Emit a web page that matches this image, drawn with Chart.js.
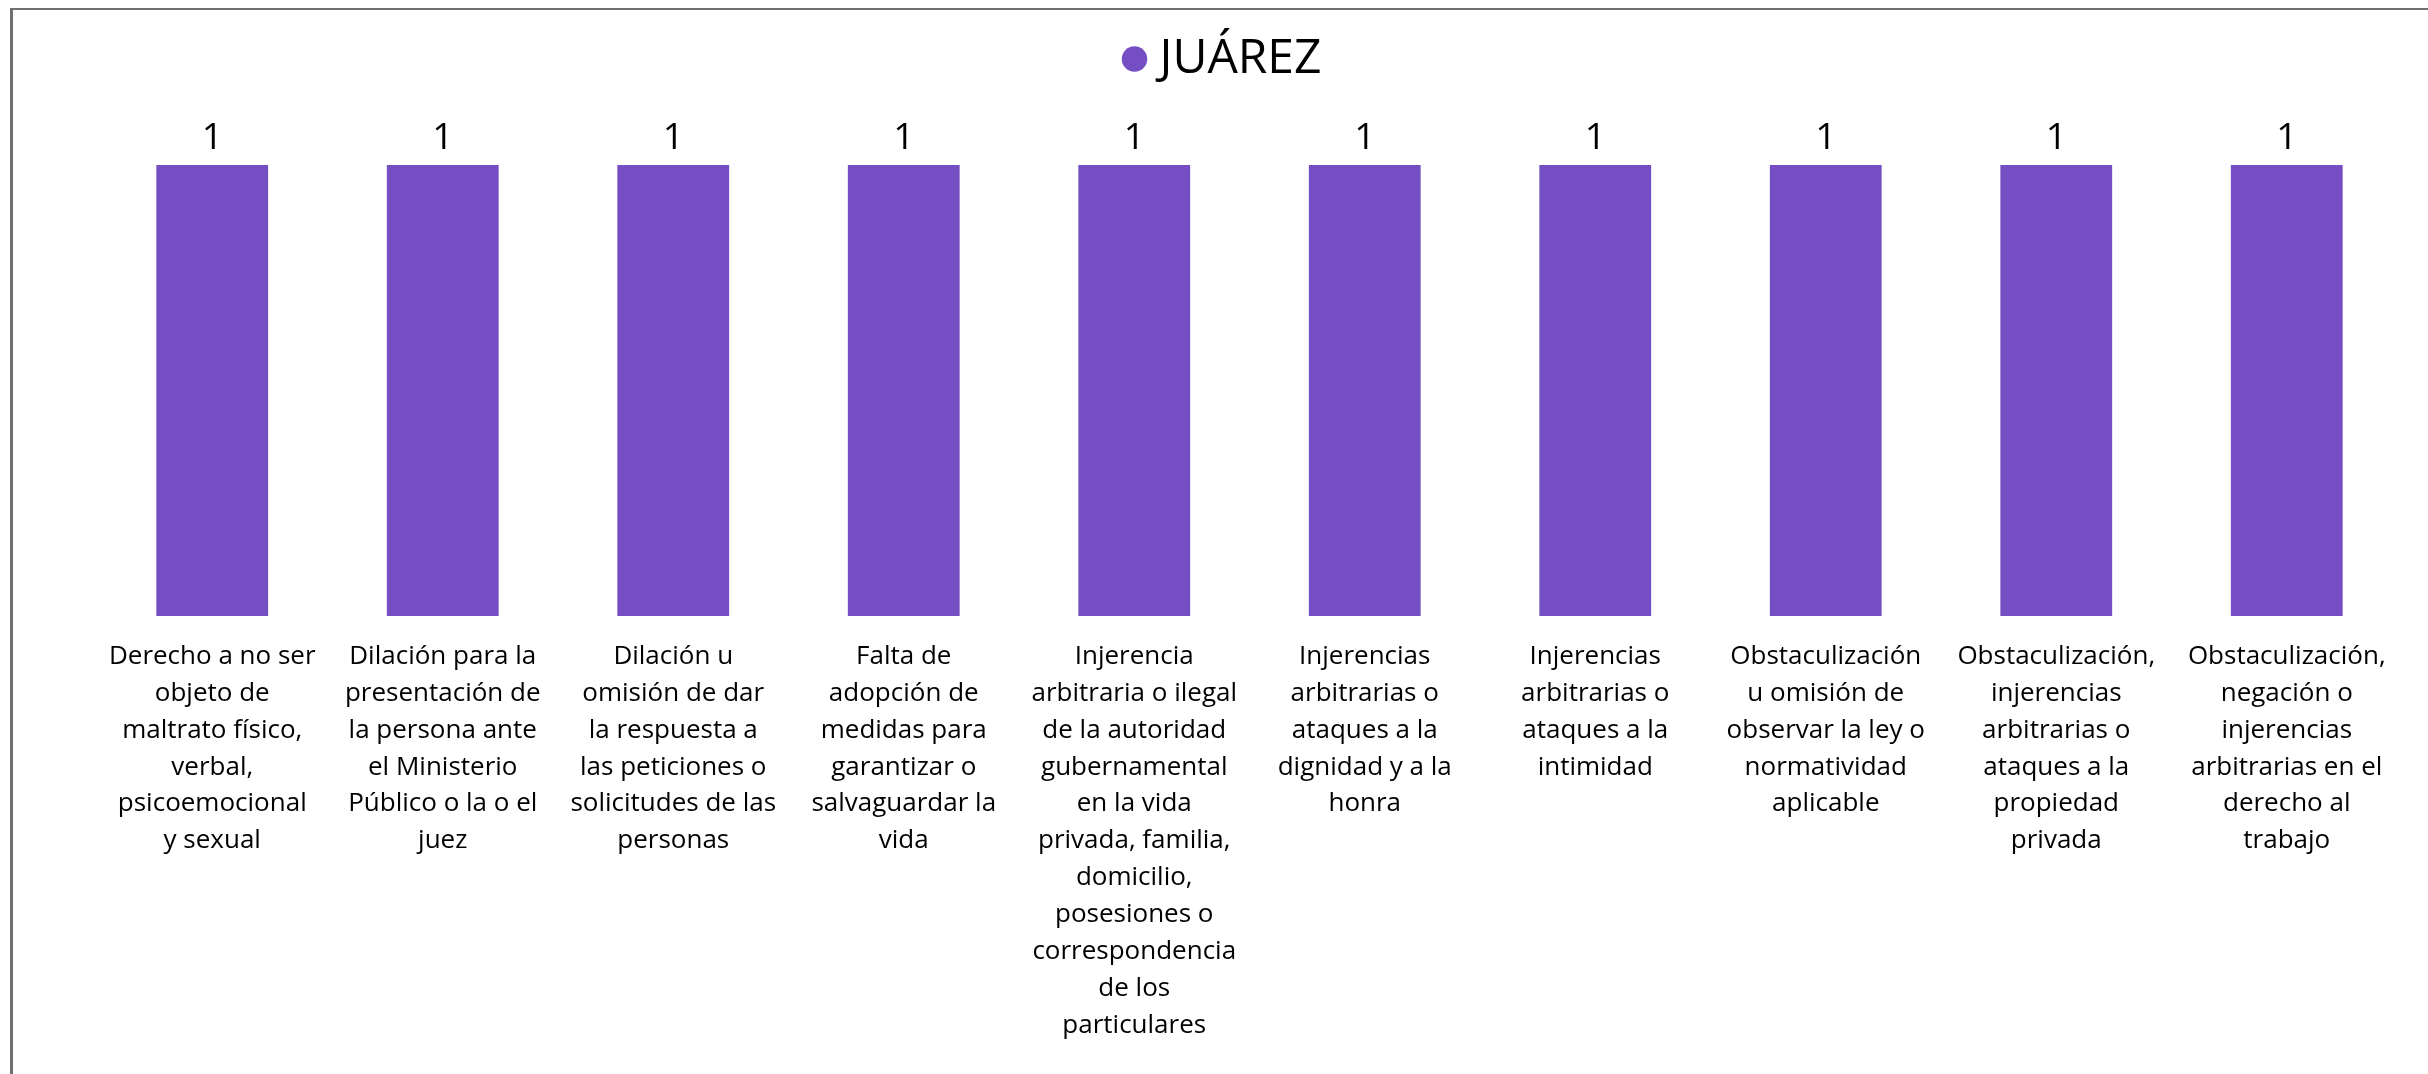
<!DOCTYPE html>
<html>
<head>
<meta charset="utf-8">
<script src="https://cdn.jsdelivr.net/npm/chart.js@4.4.1/dist/chart.umd.min.js"></script>
<style>
  html, body { margin: 0; padding: 0; background: #fff; }
  #marco {
    position: absolute; left: 10px; top: 8px; width: 2440px; height: 1100px;
    border-left: 3px solid #6f6f6f; border-top: 2px solid #6f6f6f;
  }
  #wrap { position: absolute; left: 0; top: 0; width: 2428px; height: 1074px; }
</style>
</head>
<body>
<div id="marco"></div>
<div id="wrap"><canvas id="grafica"></canvas></div>
<script>
// Datos de la gráfica
const serie = "JUÁREZ";
const categorias = [
  ["Derecho a no ser", "objeto de", "maltrato físico,", "verbal,", "psicoemocional", "y sexual"],
  ["Dilación para la", "presentación de", "la persona ante", "el Ministerio", "Público o la o el", "juez"],
  ["Dilación u", "omisión de dar", "la respuesta a", "las peticiones o", "solicitudes de las", "personas"],
  ["Falta de", "adopción de", "medidas para", "garantizar o", "salvaguardar la", "vida"],
  ["Injerencia", "arbitraria o ilegal", "de la autoridad", "gubernamental", "en la vida", "privada, familia,", "domicilio,", "posesiones o", "correspondencia", "de los", "particulares"],
  ["Injerencias", "arbitrarias o", "ataques a la", "dignidad y a la", "honra"],
  ["Injerencias", "arbitrarias o", "ataques a la", "intimidad"],
  ["Obstaculización", "u omisión de", "observar la ley o", "normatividad", "aplicable"],
  ["Obstaculización,", "injerencias", "arbitrarias o", "ataques a la", "propiedad", "privada"],
  ["Obstaculización,", "negación o", "injerencias", "arbitrarias en el", "derecho al", "trabajo"]
];
const valores = [1, 1, 1, 1, 1, 1, 1, 1, 1, 1];

const morado = "#744EC2";
const fuente = "'Open Sans', Lato, sans-serif";

// etiquetas de valor encima de cada barra (sin plugin externo)
const etiquetasValor = {
  id: "etiquetasValor",
  afterDatasetsDraw(chart) {
    const ctx = chart.ctx;
    ctx.save();
    ctx.font = "37px " + fuente;
    ctx.fillStyle = "#000";
    ctx.textAlign = "center";
    ctx.textBaseline = "alphabetic";
    chart.getDatasetMeta(0).data.forEach((bar, i) => {
      ctx.fillText(String(valores[i]), bar.x, bar.y - 16);
    });
    ctx.restore();
  }
};

// deja espacio bajo la leyenda para los numeros y la corre un poco a la izquierda
const espacioLeyenda = {
  id: "espacioLeyenda",
  beforeInit(chart) {
    const fitOrig = chart.legend.fit;
    chart.legend.fit = function () {
      fitOrig.bind(chart.legend)();
      this.height += 72;
    };
  },
  afterLayout(chart) {
    chart.legend.left -= 22;
    chart.legend.right -= 22;
  }
};

new Chart(document.getElementById("grafica"), {
  type: "bar",
  data: {
    labels: categorias,
    datasets: [{
      label: serie,
      data: valores,
      backgroundColor: morado,
      borderWidth: 0,
      barPercentage: 0.97,
      categoryPercentage: 0.5
    }]
  },
  options: {
    responsive: true,
    maintainAspectRatio: false,
    animation: false,
    layout: { padding: { top: 25, left: 97, right: 26, bottom: 8 } },
    plugins: {
      legend: {
        position: "top",
        labels: {
          usePointStyle: true,
          pointStyle: "circle",
          boxWidth: 2,
          boxHeight: 18,
          color: "#000",
          padding: 10,
          font: { family: fuente, size: 48 }
        }
      },
      tooltip: { enabled: false }
    },
    scales: {
      x: {
        grid: { display: false, drawTicks: false },
        border: { display: false },
        ticks: {
          autoSkip: false,
          maxRotation: 0,
          minRotation: 0,
          padding: 22,
          color: "#000",
          font: { family: fuente, size: 26, lineHeight: 1.42 }
        }
      },
      y: {
        display: false,
        min: 0,
        max: 1
      }
    }
  },
  plugins: [etiquetasValor, espacioLeyenda]
});
</script>
</body>
</html>
